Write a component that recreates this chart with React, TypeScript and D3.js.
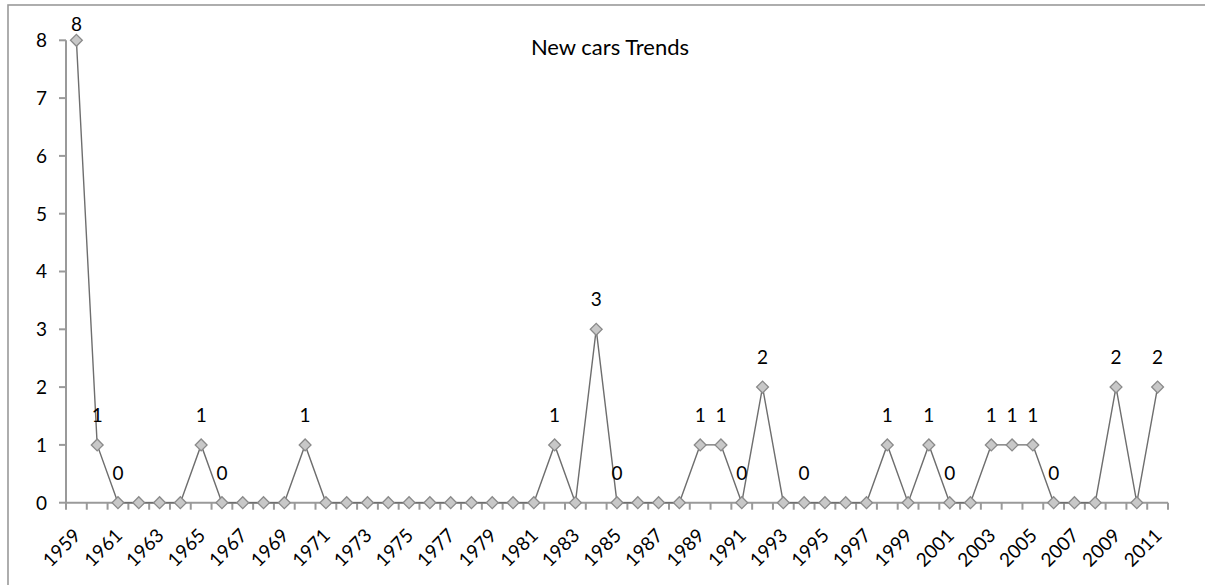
import React, { useEffect, useRef } from "react";
import * as d3 from "d3";

// years on the category axis, 1959..2011
const years: number[] = [
  1959, 1960, 1961, 1962, 1963, 1964, 1965, 1966, 1967, 1968, 1969, 1970,
  1971, 1972, 1973, 1974, 1975, 1976, 1977, 1978, 1979, 1980, 1981, 1982,
  1983, 1984, 1985, 1986, 1987, 1988, 1989, 1990, 1991, 1992, 1993, 1994,
  1995, 1996, 1997, 1998, 1999, 2000, 2001, 2002, 2003, 2004, 2005, 2006,
  2007, 2008, 2009, 2010, 2011,
];

// new cars per year
const newCars: number[] = [
  8, 1, 0, 0, 0, 0, 1, 0, 0, 0, 0, 1,
  0, 0, 0, 0, 0, 0, 0, 0, 0, 0, 0, 1,
  0, 3, 0, 0, 0, 0, 1, 1, 0, 2, 0, 0,
  0, 0, 0, 1, 0, 1, 0, 0, 1, 1, 1, 0,
  0, 0, 2, 0, 2,
];

// years that carry a data label in the original
const labeledYears: number[] = [
  1959, 1960, 1961, 1965, 1966, 1970, 1982, 1984, 1985, 1989, 1990, 1991,
  1992, 1994, 1998, 2000, 2001, 2003, 2004, 2005, 2006, 2009, 2011,
];

const yTicks: number[] = [0, 1, 2, 3, 4, 5, 6, 7, 8];
const xTickLabels: number[] = years.filter((_, i) => i % 2 === 0);

const chartTitle = "New cars Trends";

const WIDTH = 1205;
const HEIGHT = 585;
const FONT = "Lato, 'Open Sans', sans-serif";
const LABEL_SIZE = 19;

export default function App() {
  const svgRef = useRef<SVGSVGElement>(null);

  useEffect(() => {
    if (!svgRef.current) return;
    const svg = d3.select(svgRef.current);
    svg.selectAll("*").remove();

    const plot = { left: 66, right: 1168, top: 40.3, bottom: 502.7 };
    const axisColor = "#9a9a9a";

    // chart frame (runs off the right / bottom edge like the source)
    svg
      .append("rect")
      .attr("x", 8)
      .attr("y", 5)
      .attr("width", WIDTH + 50)
      .attr("height", HEIGHT + 50)
      .attr("fill", "#fff")
      .attr("stroke", axisColor)
      .attr("stroke-width", 1.6);

    const x = d3
      .scaleBand<number>()
      .domain(years)
      .range([plot.left, plot.right])
      .paddingInner(0)
      .paddingOuter(0);
    const y = d3.scaleLinear().domain([0, 8]).range([plot.bottom, plot.top]);
    const cx = (yr: number) => (x(yr) ?? 0) + x.bandwidth() / 2;

    // y axis
    const yAxis = svg.append("g");
    yAxis
      .append("line")
      .attr("x1", plot.left)
      .attr("x2", plot.left)
      .attr("y1", y(0))
      .attr("y2", y(8))
      .attr("stroke", axisColor)
      .attr("stroke-width", 2);
    yAxis
      .selectAll(".ytick")
      .data(yTicks)
      .enter()
      .append("line")
      .attr("x1", plot.left - 7)
      .attr("x2", plot.left)
      .attr("y1", (d) => y(d))
      .attr("y2", (d) => y(d))
      .attr("stroke", axisColor)
      .attr("stroke-width", 2);
    yAxis
      .selectAll(".ylabel")
      .data(yTicks)
      .enter()
      .append("text")
      .attr("x", plot.left - 19)
      .attr("y", (d) => y(d))
      .attr("dy", "0.36em")
      .attr("text-anchor", "end")
      .attr("font-family", FONT)
      .attr("font-size", LABEL_SIZE)
      .attr("fill", "#000")
      .text((d) => d);

    // x axis
    const xAxis = svg.append("g");
    const boundaries = years.map((yr) => x(yr) ?? 0).concat([plot.right]);
    xAxis
      .append("line")
      .attr("x1", plot.left)
      .attr("x2", plot.right)
      .attr("y1", plot.bottom)
      .attr("y2", plot.bottom)
      .attr("stroke", axisColor)
      .attr("stroke-width", 2);
    xAxis
      .selectAll(".xtick")
      .data(boundaries)
      .enter()
      .append("line")
      .attr("x1", (d) => d)
      .attr("x2", (d) => d)
      .attr("y1", plot.bottom)
      .attr("y2", plot.bottom + 7)
      .attr("stroke", axisColor)
      .attr("stroke-width", 2);
    xAxis
      .selectAll(".xlabel")
      .data(xTickLabels)
      .enter()
      .append("text")
      .attr(
        "transform",
        (d) => `translate(${cx(d) + 5.5},${plot.bottom + 34}) rotate(-45)`
      )
      .attr("text-anchor", "end")
      .attr("font-family", FONT)
      .attr("font-size", LABEL_SIZE)
      .attr("fill", "#000")
      .text((d) => d);

    // title
    svg
      .append("text")
      .attr("x", 610)
      .attr("y", 55)
      .attr("text-anchor", "middle")
      .attr("font-family", FONT)
      .attr("font-size", 22)
      .attr("fill", "#000")
      .text(chartTitle);

    // series line
    const line = d3
      .line<number>()
      .x((_, i) => cx(years[i]))
      .y((d) => y(d));
    svg
      .append("path")
      .datum(newCars)
      .attr("d", line)
      .attr("fill", "none")
      .attr("stroke", "#6e6e6e")
      .attr("stroke-width", 1.4);

    // diamond markers
    const diamond = d3.symbol().type(d3.symbolSquare).size(70);
    svg
      .selectAll(".marker")
      .data(newCars)
      .enter()
      .append("path")
      .attr("d", diamond)
      .attr(
        "transform",
        (d, i) => `translate(${cx(years[i])},${y(d)}) rotate(45)`
      )
      .attr("fill", "#c8c8c8")
      .attr("stroke", "#8a8a8a")
      .attr("stroke-width", 1.3);

    // data labels
    svg
      .selectAll(".dlabel")
      .data(labeledYears)
      .enter()
      .append("text")
      .attr("x", (yr) => cx(yr))
      .attr("y", (yr) => Math.max(24, y(newCars[years.indexOf(yr)]) - 30))
      .attr("dy", "0.36em")
      .attr("text-anchor", "middle")
      .attr("font-family", FONT)
      .attr("font-size", LABEL_SIZE)
      .attr("fill", "#000")
      .text((yr) => newCars[years.indexOf(yr)]);
  }, []);

  return (
    <div style={{ position: "absolute", left: 0, top: 0 }}>
      <svg ref={svgRef} width={WIDTH} height={HEIGHT} />
    </div>
  );
}
